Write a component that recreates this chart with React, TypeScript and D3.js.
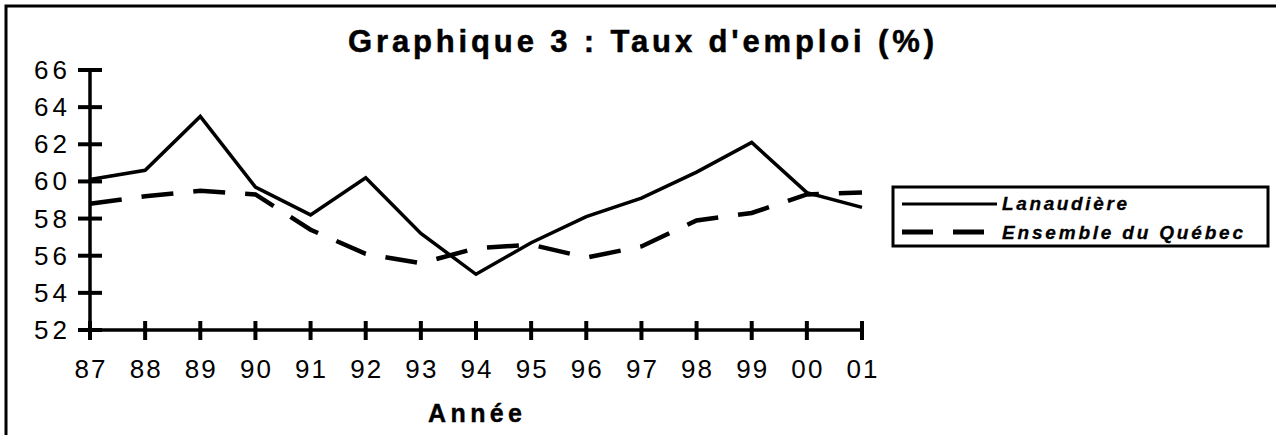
import React from "react";
import * as d3 from "d3";

const years = ["87", "88", "89", "90", "91", "92", "93", "94", "95", "96", "97", "98", "99", "00", "01"];
const lanaudiere = [60.1, 60.6, 63.5, 59.7, 58.2, 60.2, 57.2, 55.0, 56.7, 58.1, 59.1, 60.5, 62.1, 59.4, 58.6];
const quebec = [58.8, 59.2, 59.5, 59.3, 57.4, 56.1, 55.6, 56.4, 56.6, 55.9, 56.5, 57.9, 58.3, 59.3, 59.4];
const yTicks = [52, 54, 56, 58, 60, 62, 64, 66];
const seriesNames = ["Lanaudière", "Ensemble du Québec"];
const title = "Graphique 3 : Taux d'emploi (%)";
const xTitle = "Année";

const FONT = "'Liberation Sans', Arial, sans-serif";

export default function App() {
  const W = 1276, H = 435;
  const x = d3.scalePoint<string>().domain(years).range([90, 862]);
  const y = d3.scaleLinear().domain([52, 66]).range([330, 70]);
  const line = d3
    .line<number>()
    .x((_, i) => x(years[i]) as number)
    .y((d) => y(d));

  return (
    <svg width={W} height={H} style={{ position: "absolute", left: 0, top: 0 }}>
      <rect x={0} y={0} width={W} height={H} fill="#fff" />
      {/* frame (left and top visible) */}
      <rect x={6} y={6} width={W + 20} height={H + 20} fill="none" stroke="#000" strokeWidth={3} />
      {/* title */}
      <text
        x={641}
        y={52}
        textAnchor="middle"
        fontFamily={FONT}
        fontWeight="bold"
        fontSize={31}
        stroke="#000"
        strokeWidth={0.5}
        textLength={586}
        lengthAdjust="spacing"
      >
        {title}
      </text>
      {/* axes */}
      <line x1={90} x2={90} y1={y(66)} y2={y(52)} stroke="#000" strokeWidth={3.5} />
      <line x1={90} x2={862} y1={y(52)} y2={y(52)} stroke="#000" strokeWidth={3.5} />
      {yTicks.map((t) => (
        <g key={"y" + t}>
          <line x1={78} x2={102} y1={y(t)} y2={y(t)} stroke="#000" strokeWidth={4} />
          <text
            x={67}
            y={y(t) + 9}
            textAnchor="end"
            fontFamily={FONT}
            fontSize={26}
            textLength={33}
            lengthAdjust="spacing"
          >
            {t}
          </text>
        </g>
      ))}
      {years.map((yr) => (
        <g key={"x" + yr}>
          <line x1={x(yr)} x2={x(yr)} y1={321} y2={340} stroke="#000" strokeWidth={4} />
          <text
            x={x(yr)}
            y={378}
            textAnchor="middle"
            fontFamily={FONT}
            fontSize={26}
            textLength={31}
            lengthAdjust="spacing"
          >
            {yr}
          </text>
        </g>
      ))}
      <text
        x={475}
        y={422}
        textAnchor="middle"
        fontFamily={FONT}
        fontWeight="bold"
        fontSize={25}
        stroke="#000"
        strokeWidth={0.4}
        textLength={94}
        lengthAdjust="spacing"
      >
        {xTitle}
      </text>
      {/* series */}
      <path d={line(lanaudiere) || ""} fill="none" stroke="#000" strokeWidth={3.5} strokeLinejoin="miter" />
      <path
        d={line(quebec) || ""}
        fill="none"
        stroke="#000"
        strokeWidth={4.5}
        strokeDasharray="32 20"
      />
      {/* legend */}
      <rect x={893} y={187} width={375} height={59} fill="#fff" stroke="#000" strokeWidth={3} />
      <line x1={902} x2={997} y1={204} y2={204} stroke="#000" strokeWidth={3} />
      <line x1={902} x2={985} y1={232} y2={232} stroke="#000" strokeWidth={5} strokeDasharray="31 20" />
      <text
        x={1002}
        y={210}
        fontFamily={FONT}
        fontWeight="bold"
        fontStyle="italic"
        fontSize={19}
        stroke="#000"
        strokeWidth={0.3}
        textLength={125}
        lengthAdjust="spacing"
      >
        {seriesNames[0]}
      </text>
      <text
        x={1002}
        y={239}
        fontFamily={FONT}
        fontWeight="bold"
        fontStyle="italic"
        fontSize={19}
        stroke="#000"
        strokeWidth={0.3}
        textLength={241}
        lengthAdjust="spacing"
      >
        {seriesNames[1]}
      </text>
    </svg>
  );
}
